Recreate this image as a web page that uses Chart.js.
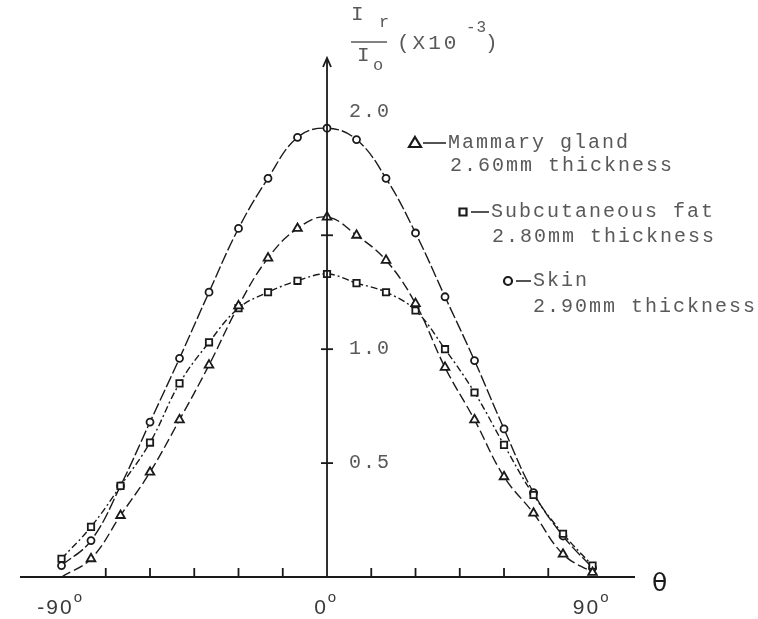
<!DOCTYPE html>
<html>
<head>
<meta charset="utf-8">
<script src="https://cdn.jsdelivr.net/npm/chart.js@4"></script>
<style>
  html, body { margin: 0; padding: 0; background: #fff; }
  #wrap { width: 758px; height: 619px; position: relative; }
</style>
</head>
<body>
<div id="wrap"><canvas id="chart" width="758" height="619"></canvas></div>
<script>
// scattering angle (degrees) and reflected intensity Ir/Io (x10^-3)
const angles  = [-90, -80, -70, -60, -50, -40, -30, -20, -10, 0, 10, 20, 30, 40, 50, 60, 70, 80, 90];
const mammary = [0.00, 0.08, 0.27, 0.46, 0.69, 0.93, 1.19, 1.40, 1.53, 1.58, 1.50, 1.39, 1.20, 0.92, 0.69, 0.44, 0.28, 0.10, 0.02];
const fat     = [0.08, 0.22, 0.40, 0.59, 0.85, 1.03, 1.18, 1.25, 1.30, 1.33, 1.29, 1.25, 1.17, 1.00, 0.81, 0.58, 0.36, 0.19, 0.05];
const skin    = [0.05, 0.16, 0.40, 0.68, 0.96, 1.25, 1.53, 1.75, 1.93, 1.97, 1.92, 1.75, 1.51, 1.23, 0.95, 0.65, 0.37, 0.18, 0.04];

const xTicks = [-75, -60, -45, -30, -15, 15, 30, 45, 60, 75];
const xLabels = [-90, 0, 90];
const yTicks = [0.5, 1.0, 1.5];
const yLabels = [0.5, 1.0, 2.0];

const legendItems = [
  { style: 'triangle', name: 'Mammary gland',    note: '2.60mm thickness' },
  { style: 'rect',     name: 'Subcutaneous fat', note: '2.80mm thickness' },
  { style: 'circle',   name: 'Skin',             note: '2.90mm thickness' }
];

const ink = '#1a1a1a';
const typed = '#595959';
const mono = '"Liberation Mono", "DejaVu Sans Mono", monospace';

function toPoints(values) {
  return angles.map((a, i) => ({ x: a, y: values[i] }));
}

function marker(ctx, style, x, y) {
  ctx.save();
  ctx.lineWidth = 2.2;
  ctx.strokeStyle = ink;
  ctx.fillStyle = '#fff';
  ctx.beginPath();
  if (style === 'triangle') {
    ctx.moveTo(x, y - 6);
    ctx.lineTo(x + 6, y + 4);
    ctx.lineTo(x - 6, y + 4);
    ctx.closePath();
  } else if (style === 'rect') {
    ctx.rect(x - 3.5, y - 3.5, 7, 7);
  } else {
    ctx.arc(x, y, 4, 0, Math.PI * 2);
  }
  ctx.fill();
  ctx.stroke();
  ctx.restore();
}

// axes, ticks, labels and the typed legend
const paperAxes = {
  id: 'paperAxes',
  afterDatasetsDraw(chart) {
    const ctx = chart.ctx;
    const xs = chart.scales.x;
    const ys = chart.scales.y;
    const x0 = xs.getPixelForValue(0);
    const y0 = ys.getPixelForValue(0);
    const area = chart.chartArea;

    ctx.save();
    ctx.strokeStyle = ink;
    ctx.lineWidth = 1.8;

    // horizontal axis
    ctx.beginPath();
    ctx.moveTo(area.left, y0);
    ctx.lineTo(area.right, y0);
    ctx.stroke();
    xTicks.forEach(t => {
      const px = xs.getPixelForValue(t);
      ctx.beginPath();
      ctx.moveTo(px, y0);
      ctx.lineTo(px, y0 - 9);
      ctx.stroke();
    });

    // vertical axis with arrow
    const top = area.top + 5;
    ctx.beginPath();
    ctx.moveTo(x0, y0);
    ctx.lineTo(x0, top);
    ctx.stroke();
    ctx.beginPath();
    ctx.moveTo(x0 - 4, top + 9);
    ctx.lineTo(x0, top);
    ctx.lineTo(x0 + 4, top + 9);
    ctx.stroke();
    yTicks.forEach(t => {
      const py = ys.getPixelForValue(t);
      ctx.beginPath();
      ctx.moveTo(x0 - 6, py);
      ctx.lineTo(x0 + 6, py);
      ctx.stroke();
    });

    // y tick labels, typewriter style
    ctx.fillStyle = typed;
    ctx.font = '20px ' + mono;
    ctx.letterSpacing = '2px';
    ctx.textAlign = 'left';
    ctx.textBaseline = 'middle';
    yLabels.forEach(v => {
      const lift = v === 2.0 ? 10 : 0;
      ctx.fillText(v.toFixed(1), x0 + 22, ys.getPixelForValue(v) - lift);
    });

    // y axis title: Ir / Io (X10^-3)
    ctx.font = '21px ' + mono;
    ctx.fillText('I', x0 + 24, 14);
    ctx.font = '17px ' + mono;
    ctx.fillText('r', x0 + 52, 22);
    ctx.beginPath();
    ctx.lineWidth = 1.5;
    ctx.strokeStyle = typed;
    ctx.moveTo(x0 + 24, 42);
    ctx.lineTo(x0 + 60, 42);
    ctx.stroke();
    ctx.font = '21px ' + mono;
    ctx.fillText('I', x0 + 30, 55);
    ctx.font = '17px ' + mono;
    ctx.fillText('o', x0 + 46, 65);
    ctx.font = '21px ' + mono;
    ctx.letterSpacing = '3px';
    ctx.fillText('(X10', x0 + 70, 43);
    ctx.font = '16px ' + mono;
    ctx.letterSpacing = '1px';
    ctx.fillText('-3', x0 + 139, 28);
    ctx.font = '21px ' + mono;
    ctx.fillText(')', x0 + 158, 43);

    // x tick labels with degree sign
    ctx.fillStyle = '#3a3a3a';
    ctx.letterSpacing = '2px';
    xLabels.forEach(a => {
      const num = String(a);
      ctx.font = '21px "Liberation Sans", sans-serif';
      const w = ctx.measureText(num).width;
      const cx = xs.getPixelForValue(a) - 6;
      const left = cx - w / 2;
      ctx.textAlign = 'left';
      ctx.fillText(num, left, y0 + 31);
      ctx.font = '15px "Liberation Sans", sans-serif';
      ctx.fillText('o', left + w, y0 + 21);
    });
    ctx.letterSpacing = '0px';
    ctx.font = '25px "DejaVu Sans", sans-serif';
    ctx.fillStyle = ink;
    ctx.fillText('\u03b8', area.right + 17, y0 + 7);

    // legend
    const rows = [
      { mx: 415, my: 143, tx: 448, nx: 450, ny: 166 },
      { mx: 463, my: 212, tx: 491, nx: 492, ny: 237 },
      { mx: 508, my: 281, tx: 533, nx: 533, ny: 307 }
    ];
    legendItems.forEach((item, i) => {
      const r = rows[i];
      marker(ctx, item.style, r.mx, r.my);
      ctx.strokeStyle = ink;
      ctx.lineWidth = 1.5;
      ctx.beginPath();
      ctx.moveTo(r.mx + 8, r.my);
      ctx.lineTo(r.tx - 2, r.my);
      ctx.stroke();
      ctx.fillStyle = typed;
      ctx.font = '20px ' + mono;
      ctx.letterSpacing = '2px';
      ctx.textBaseline = 'middle';
      ctx.fillText(item.name, r.tx, r.my);
      ctx.fillText(item.note, r.nx, r.ny);
    });
    ctx.restore();
  }
};

function series(label, values, style, radius, dash) {
  return {
    label: label,
    data: toPoints(values),
    borderColor: ink,
    borderWidth: 1.4,
    borderDash: dash,
    tension: 0.4,
    fill: false,
    pointStyle: style,
    pointRadius: c => (c.raw && c.raw.y <= 0 ? 0 : radius),
    pointBorderWidth: 1.8,
    pointBorderColor: ink,
    pointBackgroundColor: '#fff'
  };
}

new Chart(document.getElementById('chart'), {
  type: 'line',
  data: {
    datasets: [
      series('Mammary gland', mammary, 'triangle', 5, [10, 4]),
      series('Subcutaneous fat', fat, 'rect', 4.5, [7, 3, 2, 3]),
      series('Skin', skin, 'circle', 3.5, [12, 3])
    ]
  },
  options: {
    responsive: false,
    devicePixelRatio: 1,
    animation: false,
    layout: { padding: { left: 20, right: 123, top: 53, bottom: 42 } },
    plugins: { legend: { display: false }, tooltip: { enabled: false } },
    scales: {
      x: { type: 'linear', min: -104.07, max: 104.4, display: false },
      y: { min: 0, max: 2.3, display: false }
    }
  },
  plugins: [paperAxes]
});
</script>
</body>
</html>
